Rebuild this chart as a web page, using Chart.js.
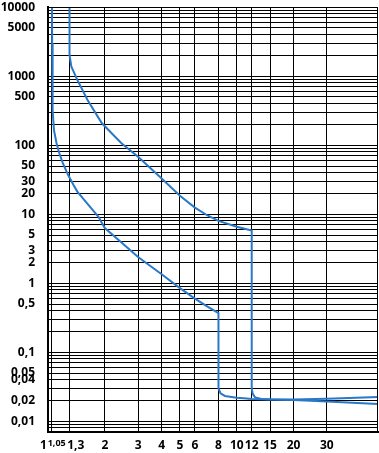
<!DOCTYPE html>
<html>
<head>
<meta charset="utf-8">
<script src="https://cdn.jsdelivr.net/npm/chart.js@4"></script>
<style>
  html, body { margin: 0; padding: 0; background: #fff; }
  #wrap { width: 379px; height: 453px; }
</style>
</head>
<body>
<div id="wrap"><canvas id="tripChart"></canvas></div>
<script>
// x axis: multiples of rated current
const xTicks = [1, 1.05, 1.3, 2, 3, 4, 5, 6, 8, 10, 12, 15, 20, 30];
// y axis: time in seconds, labelled values
const yLabels = [10000, 5000, 1000, 500, 100, 50, 30, 20, 10, 5, 3, 2, 1, 0.5, 0.1, 0.05, 0.04, 0.02, 0.01];

// lower curve (magnetic trip at 8 x In)
const curve8X = [1.05, 1.052, 1.055, 1.061, 1.075, 1.109, 1.147, 1.198, 1.279, 1.365, 1.43, 1.555, 1.85, 2, 2.45, 3, 4, 5, 6, 7, 8, 8, 8.2, 8.65, 10, 10.9, 12, 15, 20, 30, 56];
const curve8Y = [10000, 3000, 1000, 325, 167, 108, 77, 55, 37, 26.6, 21.3, 16.1, 9.2, 6.3, 3.9, 2.4, 1.35, 0.85, 0.6, 0.46, 0.37, 0.03, 0.0255, 0.0233, 0.022, 0.0216, 0.0211, 0.0207, 0.0203, 0.0193, 0.0178];

// upper curve (magnetic trip at 12 x In)
const curve12X = [1.3, 1.3, 1.33, 1.43, 1.62, 1.93, 2.45, 3, 4, 5, 6, 7, 8, 10, 12, 12, 12.15, 12.5, 13.5, 15, 20, 30, 56];
const curve12Y = [10000, 2035, 1377, 884, 453, 208, 107, 68, 33, 18.5, 12.5, 9.6, 8.0, 6.6, 5.8, 0.03, 0.025, 0.0222, 0.021, 0.0208, 0.0207, 0.0213, 0.0225];

// horizontal grid: 1..9 in every decade
const yGrid = [];
for (let e = -3; e <= 4; e++) {
    for (let m = 1; m <= 9; m++) {
        const v = Number((m * Math.pow(10, e)).toPrecision(3));
        if (v >= 0.007 && v <= 10000) yGrid.push(v);
    }
}

function toPoints(xs, ys) {
    return xs.map((x, i) => ({ x: x, y: ys[i] }));
}

function comma(v) {
    return String(v).replace('.', ',');
}

const blue = '#2a78c8';
const labelFont = '"Open Sans", sans-serif';

new Chart(document.getElementById('tripChart'), {
    type: 'line',
    data: {
        datasets: [
            { data: toPoints(curve8X, curve8Y), borderColor: blue, borderWidth: 2, pointRadius: 0, tension: 0, fill: false },
            { data: toPoints(curve12X, curve12Y), borderColor: blue, borderWidth: 2, pointRadius: 0, tension: 0, fill: false }
        ]
    },
    options: {
        responsive: true,
        maintainAspectRatio: false,
        animation: false,
        layout: { padding: { top: 7, right: 1, left: 0, bottom: 0 } },
        plugins: { legend: { display: false }, tooltip: { enabled: false } },
        scales: {
            x: {
                type: 'logarithmic',
                min: 1,
                max: 56,
                border: { display: true, color: '#000', width: 2 },
                grid: { color: '#000', lineWidth: 1, drawTicks: false },
                afterBuildTicks: function (scale) {
                    scale.ticks = xTicks.map(v => ({ value: v }));
                },
                afterFit: function (scale) { scale.height = 21; },
                ticks: {
                    autoSkip: false,
                    maxRotation: 0,
                    padding: 6,
                    color: '#000',
                    font: function (ctx) {
                        const small = ctx.tick && ctx.tick.value === 1.05;
                        return { family: labelFont, weight: 'bold', size: small ? 9 : 12 };
                    },
                    callback: function (value) {
                        // the first three labels sit crowded, nudge them apart
                        if (value === 1) return '1   ';
                        if (value === 1.05) return '    1,05';
                        if (value === 1.3) return '    1,3';
                        return comma(value);
                    }
                }
            },
            y: {
                type: 'logarithmic',
                min: 0.007,
                max: 10000,
                border: { display: true, color: '#000', width: 2 },
                grid: { color: '#000', lineWidth: 1, drawTicks: true, tickLength: 13, tickColor: 'rgba(0,0,0,0)' },
                afterBuildTicks: function (scale) {
                    scale.ticks = yGrid.map(v => ({ value: v }));
                },
                afterFit: function (scale) { scale.width = 48; },
                ticks: {
                    autoSkip: false,
                    padding: 0,
                    color: '#000',
                    font: { family: labelFont, weight: 'bold', size: 12 },
                    callback: function (value) {
                        return yLabels.includes(value) ? comma(value) : '';
                    }
                }
            }
        }
    },
    plugins: [{
        // right and top edges of the grid paper
        id: 'frame',
        afterDraw: function (chart) {
            const a = chart.chartArea, c = chart.ctx;
            c.save();
            c.strokeStyle = '#000';
            c.lineWidth = 1;
            c.strokeRect(a.left, Math.round(a.top) + 0.5, a.right - a.left - 0.5, a.bottom - a.top);
            c.restore();
        }
    }]
});
</script>
</body>
</html>
